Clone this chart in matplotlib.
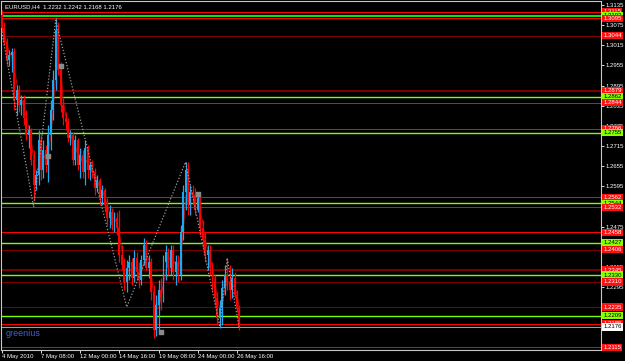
import matplotlib
matplotlib.use('Agg')
import matplotlib.pyplot as plt
import matplotlib.transforms as mtransforms
import numpy as np
import pandas as pd

plt.rcParams['font.family'] = ['Liberation Sans', 'DejaVu Sans']

# EURUSD H4 bars (4 May 2010 .. 26 May 2010)
opens = [1.3105, 1.3067, 1.3025, 1.2971, 1.2986, 1.2995, 1.2852, 1.2882, 1.2837, 1.2852,
         1.2798, 1.2748, 1.2763, 1.2673, 1.2599, 1.2629, 1.2733, 1.2643, 1.2703, 1.2658,
         1.2748, 1.2822, 1.2912, 1.3061, 1.2941, 1.2837, 1.2798, 1.2786, 1.2739, 1.2748,
         1.2673, 1.2733, 1.2658, 1.2688, 1.2637, 1.2709, 1.2643, 1.2658, 1.2637, 1.2590,
         1.2614, 1.2560, 1.2584, 1.2539, 1.2500, 1.2518, 1.2480, 1.2500, 1.2471, 1.2390,
         1.2360, 1.2310, 1.2351, 1.2369, 1.2322, 1.2381, 1.2339, 1.2316, 1.2375, 1.2420,
         1.2351, 1.2369, 1.2280, 1.2167, 1.2241, 1.2286, 1.2262, 1.2369, 1.2399, 1.2351,
         1.2405, 1.2339, 1.2369, 1.2331, 1.2459, 1.2578, 1.2643, 1.2539, 1.2578, 1.2569,
         1.2524, 1.2560, 1.2471, 1.2435, 1.2390, 1.2405, 1.2351, 1.2310, 1.2262, 1.2202,
         1.2232, 1.2292, 1.2331, 1.2310, 1.2286, 1.2322, 1.2271, 1.2232]
highs = [1.3120, 1.3084, 1.3037, 1.3001, 1.3007, 1.3007, 1.2897, 1.2897, 1.2867, 1.2867,
         1.2822, 1.2778, 1.2769, 1.2703, 1.2643, 1.2763, 1.2748, 1.2733, 1.2718, 1.2778,
         1.2852, 1.2941, 1.3096, 1.3084, 1.2965, 1.2858, 1.2816, 1.2798, 1.2763, 1.2757,
         1.2748, 1.2739, 1.2709, 1.2703, 1.2733, 1.2718, 1.2667, 1.2673, 1.2649, 1.2629,
         1.2620, 1.2599, 1.2590, 1.2560, 1.2539, 1.2530, 1.2518, 1.2518, 1.2524, 1.2420,
         1.2381, 1.2375, 1.2390, 1.2381, 1.2405, 1.2399, 1.2369, 1.2390, 1.2441, 1.2435,
         1.2390, 1.2381, 1.2301, 1.2271, 1.2316, 1.2322, 1.2390, 1.2420, 1.2411, 1.2420,
         1.2420, 1.2390, 1.2390, 1.2480, 1.2599, 1.2667, 1.2667, 1.2599, 1.2599, 1.2590,
         1.2578, 1.2569, 1.2494, 1.2459, 1.2420, 1.2420, 1.2369, 1.2331, 1.2280, 1.2256,
         1.2316, 1.2360, 1.2381, 1.2360, 1.2351, 1.2339, 1.2286, 1.2242]
lows = [1.3055, 1.3016, 1.2956, 1.2953, 1.2935, 1.2822, 1.2807, 1.2816, 1.2807, 1.2778,
        1.2733, 1.2709, 1.2658, 1.2554, 1.2584, 1.2599, 1.2614, 1.2620, 1.2637, 1.2608,
        1.2703, 1.2792, 1.2882, 1.2926, 1.2816, 1.2778, 1.2763, 1.2727, 1.2718, 1.2658,
        1.2658, 1.2643, 1.2620, 1.2620, 1.2599, 1.2620, 1.2614, 1.2620, 1.2569, 1.2578,
        1.2539, 1.2539, 1.2518, 1.2480, 1.2471, 1.2465, 1.2459, 1.2450, 1.2369, 1.2345,
        1.2286, 1.2280, 1.2316, 1.2301, 1.2310, 1.2316, 1.2292, 1.2301, 1.2360, 1.2345,
        1.2322, 1.2256, 1.2143, 1.2149, 1.2161, 1.2226, 1.2250, 1.2316, 1.2331, 1.2331,
        1.2316, 1.2301, 1.2310, 1.2316, 1.2435, 1.2524, 1.2509, 1.2509, 1.2539, 1.2509,
        1.2518, 1.2450, 1.2411, 1.2369, 1.2345, 1.2331, 1.2286, 1.2241, 1.2182, 1.2173,
        1.2182, 1.2271, 1.2286, 1.2256, 1.2262, 1.2262, 1.2220, 1.2168]
closes = [1.3067, 1.3025, 1.2971, 1.2986, 1.2995, 1.2852, 1.2882, 1.2837, 1.2852, 1.2798,
          1.2748, 1.2763, 1.2673, 1.2599, 1.2629, 1.2733, 1.2643, 1.2703, 1.2658, 1.2748,
          1.2822, 1.2912, 1.3061, 1.2941, 1.2837, 1.2798, 1.2786, 1.2739, 1.2748, 1.2673,
          1.2733, 1.2658, 1.2688, 1.2637, 1.2709, 1.2643, 1.2658, 1.2637, 1.2590, 1.2614,
          1.2560, 1.2584, 1.2539, 1.2500, 1.2518, 1.2480, 1.2500, 1.2471, 1.2390, 1.2360,
          1.2310, 1.2351, 1.2369, 1.2322, 1.2381, 1.2339, 1.2316, 1.2375, 1.2420, 1.2351,
          1.2369, 1.2280, 1.2167, 1.2241, 1.2286, 1.2262, 1.2369, 1.2399, 1.2351, 1.2405,
          1.2339, 1.2369, 1.2331, 1.2459, 1.2578, 1.2643, 1.2539, 1.2578, 1.2569, 1.2524,
          1.2560, 1.2471, 1.2435, 1.2390, 1.2405, 1.2351, 1.2310, 1.2262, 1.2202, 1.2232,
          1.2292, 1.2331, 1.2310, 1.2286, 1.2322, 1.2271, 1.2232, 1.2176]

# zigzag (dotted) and fractal markers
zz_idx = [0, 13, 22, 51, 75, 89, 92, 97]
zz_price = [1.3055, 1.2533, 1.3090, 1.2235, 1.2667, 1.2176, 1.2381, 1.2168]
mark_idx = [19, 24, 65, 80]
mark_price = [1.2685, 1.2953, 1.2161, 1.2572]

# support / resistance lines
levels = [1.3115, 1.3103, 1.3095, 1.3044, 1.2879, 1.2862, 1.2844, 1.2766, 1.2755,
          1.2562, 1.2544, 1.2532, 1.2458, 1.2427, 1.2406, 1.2345, 1.2330, 1.2310,
          1.2235, 1.2209, 1.2185, 1.2115]
level_kind = ['r', 'g', 'r', 'd', 'd', 'y', 'r', 'r', 'y', 'r', 'y', 'r', 'r', 'y',
              'd', 'd', 'y', 'd', 'd', 'y', 'r', 'r']
level_thick = [0, 1, 0, 0, 1, 0, 0, 0, 0, 0, 0, 0, 0, 0, 0, 1, 0, 0, 0, 0, 0, 0]
current_price = 1.2176

time_idx = [0, 16, 32, 48, 64, 80, 96]
time_labels = ['4 May 2010', '7 May 08:00', '12 May 00:00', '14 May 16:00',
               '19 May 08:00', '24 May 00:00', '26 May 16:00']
price_ticks = [1.3135, 1.3075, 1.3015, 1.2955, 1.2895, 1.2835, 1.2775, 1.2715, 1.2655,
               1.2595, 1.2535, 1.2475, 1.2415, 1.2355, 1.2295, 1.2235, 1.2175, 1.2115]
hidden_ticks = [1.2535, 1.2235, 1.2175, 1.2115]

line_col = {'r': '#ff0000', 'g': '#10e010', 'd': '#7a0000', 'y': '#7cff00'}
label_bg = {'r': '#ff1010', 'g': '#88ff00', 'd': '#ff1010', 'y': '#88ff00'}

fig = plt.figure(figsize=(6.25, 3.61), dpi=100, facecolor='black')
ax = fig.add_axes([0.0016, 0.0305, 0.96, 0.9667], facecolor='black')

x = np.arange(len(closes))
o = np.array(opens); h = np.array(highs); l = np.array(lows); c = np.array(closes)
up = c >= o
col = np.where(up, '#1ea8f0', '#ff0000')

for lv, k, t in zip(levels, level_kind, level_thick):
    if k == 'y':
        ax.axhline(lv, color=line_col[k], lw=1.0, zorder=1)
    else:
        ax.axhline(lv, color=line_col[k], lw=1.3 if t else 0.6, zorder=1, antialiased=False)
ax.axhline(current_price, color='#a0a0a0', lw=0.6, zorder=1, antialiased=False)

ma = pd.Series(closes).rolling(3, min_periods=1).mean()
ax.plot(x, ma, color='#c80000', lw=0.7, zorder=2)

ax.vlines(x, l, h, colors=col, lw=0.9, zorder=3)
ax.bar(x, np.abs(c - o) + 0.00005, bottom=np.minimum(o, c), width=0.8, color=col,
       linewidth=0, zorder=3)

ax.plot(zz_idx, zz_price, color='#9a9a9a', lw=0.9, linestyle=(0, (1, 1.5)), zorder=4)
ax.scatter(mark_idx, mark_price, marker='s', s=5, color='#8a8a8a', zorder=5)

ax.set_xlim(-0.33, 244.6)
ax.set_ylim(1.2107, 1.3147)

for s in ax.spines.values():
    s.set_color('#c8c8c8')
    s.set_linewidth(0.8)

ax.yaxis.tick_right()
ax.set_yticks(price_ticks)
ax.set_yticklabels(['' if p in hidden_ticks else '%.4f' % p for p in price_ticks])
ax.tick_params(axis='y', colors='white', labelsize=4.3, length=2, width=0.6, pad=1)
ax.set_xticks(time_idx)
ax.set_xticklabels(time_labels, ha='left')
ax.tick_params(axis='x', colors='white', labelsize=4.3, length=2, width=0.6, pad=1)

# price labels on the right scale
trans = mtransforms.blended_transform_factory(ax.transAxes, ax.transData)
for lv, k in zip(levels, level_kind):
    fg = 'black' if k in ('g', 'y') else 'white'
    ax.text(1.004, lv, '%.4f' % lv, transform=trans, ha='left', va='center',
            fontsize=4.3, color=fg, clip_on=False, zorder=6,
            bbox=dict(boxstyle='square,pad=0.2', facecolor=label_bg[k], edgecolor='none'))
ax.text(1.004, current_price, '%.4f' % current_price, transform=trans, ha='left',
        va='center', fontsize=4.3, color='black', clip_on=False, zorder=7,
        bbox=dict(boxstyle='square,pad=0.2', facecolor='white', edgecolor='none'))

ax.text(0.006, 0.992, 'EURUSD,H4  1.2232 1.2242 1.2168 1.2176', transform=ax.transAxes,
        ha='left', va='top', fontsize=4.3, color='white', zorder=6)
ax.text(0.008, 0.035, 'greenius', transform=ax.transAxes, ha='left', va='bottom',
        fontsize=6.5, color='#3a62e0', zorder=6)

fig.savefig('out.png', dpi=100, facecolor='black')
